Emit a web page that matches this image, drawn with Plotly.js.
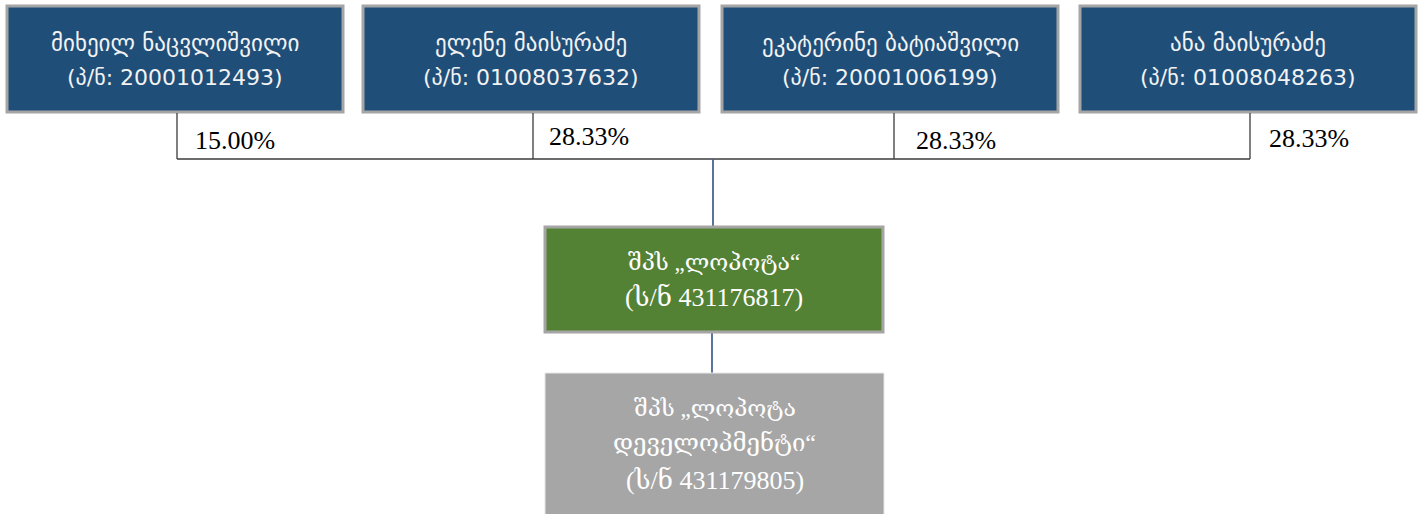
<!DOCTYPE html>
<html>
<head>
<meta charset="utf-8">
<script src="https://cdn.plot.ly/plotly-3.0.1.min.js"></script>
<style>html,body{margin:0;padding:0;background:#fff;}#chart{width:1421px;height:514px;}</style>
</head>
<body>
<div id="chart"></div>
<script>
// ---- data ----
const ownerNames = ["მიხეილ ნაცვლიშვილი", "ელენე მაისურაძე", "ეკატერინე ბატიაშვილი", "ანა მაისურაძე"];
const ownerIds = ["(პ/ნ: 20001012493)", "(პ/ნ: 01008037632)", "(პ/ნ: 20001006199)", "(პ/ნ: 01008048263)"];
const ownerShares = ["15.00%", "28.33%", "28.33%", "28.33%"];
const companyLines = ["შპს „ლოპოტა“", "(ს/ნ 431176817)"];
const subsidiaryLines = ["შპს „ლოპოტა", "დეველოპმენტი“", "(ს/ნ 431179805)"];

// ---- layout geometry (pixel-space axes) ----
const W = 1421, H = 514;
const ownerBoxX0 = [7, 363, 722, 1080];
const ownerBoxW = 336, ownerBoxY0 = 6, ownerBoxY1 = 112;
const ownerLineY = [43, 77];
const ownerStemX = [177, 533, 894, 1250];
const shareLabelX = [193, 547, 914, 1267];
const shareLabelY = [140, 136, 140, 138];
const busY = 159;
const compBox = {x0: 545, x1: 883, y0: 227, y1: 332};
const compLineY = [262, 297];
const subBox = {x0: 545, x1: 884, y0: 373, y1: 530};
const subLineY = [408, 443, 480];
const centerX = 713;

const shapes = [];
const annotations = [];
const border = {color: "#a5a5a5", width: 3};
const sans = "'DejaVu Sans', 'Open Sans', sans-serif";
const serif = "'Liberation Serif', 'DejaVu Serif', serif";

function label(x, y, text, family, size, color, xanchor) {
  annotations.push({xref: "x", yref: "y", x: x, y: y, text: text, showarrow: false,
    xanchor: xanchor || "center", yanchor: "middle", font: {family: family, size: size, color: color}});
}

ownerNames.forEach((n, i) => {
  const x0 = ownerBoxX0[i], x1 = x0 + ownerBoxW, cx = (x0 + x1) / 2;
  shapes.push({type: "rect", xref: "x", yref: "y", x0: x0, x1: x1, y0: ownerBoxY0, y1: ownerBoxY1,
    fillcolor: "#1f4e79", line: border, layer: "above"});
  shapes.push({type: "line", xref: "x", yref: "y", x0: ownerStemX[i], x1: ownerStemX[i], y0: ownerBoxY1 + 1, y1: busY,
    line: {color: "#3b3b3b", width: 1.3}});
  label(cx, ownerLineY[0], n, sans, 23, "#f2f2f2");
  label(cx, ownerLineY[1], ownerIds[i], sans, 22, "#f2f2f2");
  label(shareLabelX[i], shareLabelY[i], ownerShares[i], serif, 26, "#000000", "left");
});

shapes.push({type: "line", xref: "x", yref: "y", x0: ownerStemX[0], x1: ownerStemX[3], y0: busY, y1: busY,
  line: {color: "#3b3b3b", width: 1.3}});
shapes.push({type: "line", xref: "x", yref: "y", x0: centerX, x1: centerX, y0: busY, y1: compBox.y0,
  line: {color: "#4a6395", width: 1.8}});
shapes.push({type: "line", xref: "x", yref: "y", x0: centerX - 1, x1: centerX - 1, y0: compBox.y1, y1: subBox.y0,
  line: {color: "#4a6395", width: 1.8}});
shapes.push({type: "rect", xref: "x", yref: "y", x0: compBox.x0, x1: compBox.x1, y0: compBox.y0, y1: compBox.y1,
  fillcolor: "#548235", line: border});
shapes.push({type: "rect", xref: "x", yref: "y", x0: subBox.x0, x1: subBox.x1, y0: subBox.y0, y1: subBox.y1,
  fillcolor: "#a6a6a6", line: {color: "#e6e6e6", width: 1}});

const compCx = (compBox.x0 + compBox.x1) / 2;
label(compCx, compLineY[0], companyLines[0], serif, 23, "#ffffff");
label(compCx, compLineY[1], companyLines[1], serif, 26, "#ffffff");
const subCx = (subBox.x0 + subBox.x1) / 2;
label(subCx, subLineY[0], subsidiaryLines[0], serif, 23, "#ffffff");
label(subCx, subLineY[1], subsidiaryLines[1], serif, 24, "#ffffff");
label(subCx, subLineY[2], subsidiaryLines[2], serif, 26, "#ffffff");

const layout = {
  width: W, height: H,
  margin: {l: 0, r: 0, t: 0, b: 0},
  paper_bgcolor: "#ffffff", plot_bgcolor: "#ffffff",
  xaxis: {range: [0, W], visible: false, fixedrange: true},
  yaxis: {range: [H, 0], visible: false, fixedrange: true},
  showlegend: false,
  shapes: shapes,
  annotations: annotations
};

Plotly.newPlot("chart", [{x: [], y: [], type: "scatter", mode: "markers", hoverinfo: "skip"}], layout,
  {staticPlot: true, displayModeBar: false});
</script>
</body>
</html>
